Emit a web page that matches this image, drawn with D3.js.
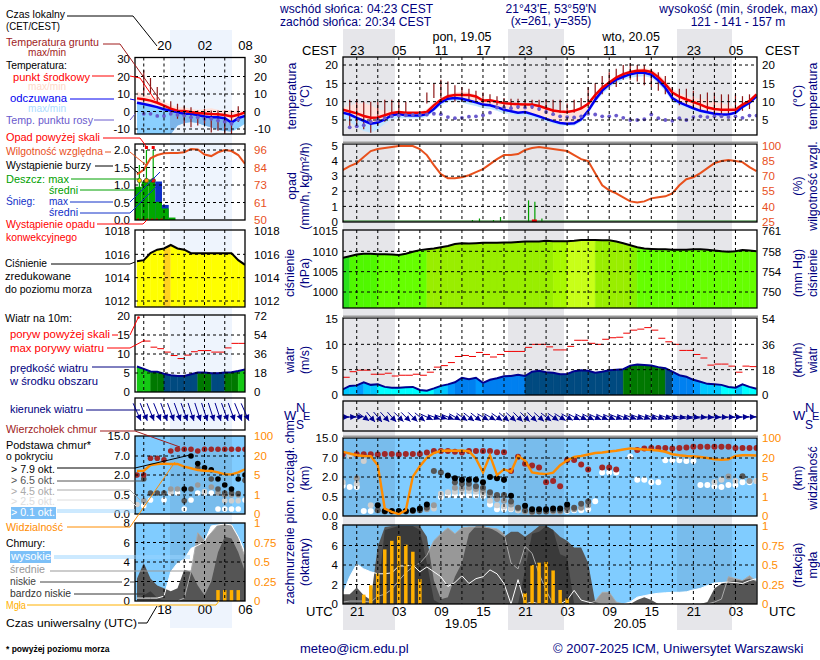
<!DOCTYPE html>
<html><head><meta charset="utf-8">
<script src="https://cdn.jsdelivr.net/npm/d3@7"></script>
<style>html,body{margin:0;padding:0;background:#fff}svg{display:block}text{font-family:"Liberation Sans",Arial,sans-serif}</style>
</head><body><svg id="c" width="820" height="660"></svg>
<script>
const n=null;
// ---------- main meteogram data (hourly from 19 UTC 18.05, index = hour) ----------
const tempMid=[7.8,7.3,6.8,6.1,5.6,5.7,6.3,6.9,7.2,7,7,7,7.2,9,10.5,11.5,11.8,11.8,11.8,11.4,10.3,10.4,10,9.6,9.4,9.3,9.2,9.2,8.8,8.2,7.6,7.3,7.2,7.5,8.2,9.4,11.8,13.8,15.2,16.6,17.5,18.1,18.4,18.5,18.1,16.7,14.8,12.5,11.4,10.6,9.9,9.2,8.4,8,7.8,7.8,7.8,9.2,10.2,12];
const tempFeel=[7,6.5,5.6,4.8,4,4.3,5.2,6.3,6.6,6.3,6.2,6.2,6.6,8,9.8,10.8,11,10.8,10.3,9.8,9.2,9,8.5,7.8,7.4,7,7.2,6.6,6,5.3,4.7,4.2,4,4.1,5.2,7.5,10.5,13,14.7,16,16.8,17.5,17.9,17.9,17.4,15.8,13.8,11,9.8,9,8.2,7.5,7.1,6.7,6.5,6.5,7,8.6,9.7,11.5];
const tempMax=[8.5,8.8,9.5,9.5,9,8,7.5,7.5,7.5,7.3,7.2,7.2,8,9.8,11,12,12.5,12.8,12.5,11.8,10.8,10.8,10.3,10,9.7,9.6,9.5,9.5,9.2,8.6,8,7.6,7.5,7.8,8.5,9.8,12.2,14.2,15.7,17,18,18.6,19,19.2,18.8,17.6,15.8,13.5,12.3,11.6,11,10.7,10.5,10,9.6,9,8.5,9.6,10.5,12.2];
const feelMin=[5.5,4.5,3,2,1.5,2.5,4,5.2,5.5,5.5,5.4,5.5,5.8,7.3,9,10,10.3,9.8,9.2,8.8,8.2,8,7.5,6.8,6.6,6.2,6.2,5.8,5.3,4.6,4,3.5,3.4,3.4,4.5,6.7,9.7,12,13.8,15,16,16.5,16.8,16.9,16.5,14.8,12.8,10,9,8.3,7.6,7,6.6,6.3,6,6,6.5,8,9.2,11];
const dewPoint=[n,3,3.3,3.6,4.5,5,5.5,6,6.2,6.3,6.4,6.5,6.5,6.7,6.6,5.8,5.5,5.6,5.9,6,6.3,7,8.4,8.4,8.2,8.6,8.4,8.6,8,7.2,6.6,6,5.8,5.7,6,6.7,6.5,6,6,6.2,5.6,5,5,5.2,6.5,5.5,5,4.8,5.5,5,5.8,6,5.8,6,6,5.8,6,5.6,6.2,6.2];
const groundMin=[n,3,3,2.5,1.5,3.5,4.5,6,6,7,n,n,9.5,11,11,11,10,10,10,10,9.5,9.5,9,8.7,8.2,8,8,8,7.5,7,7,7,7,7,8,9,10,12,14,14,16,16,15.5,14.5,14,13,12,10.5,9,9,8.5,7.5,7,7,6.5,6.5,7,7.5,8,n];
const groundMax=[n,10.5,10.7,10,10,10,10.5,10.5,10.5,10,n,n,12.5,15,16,15.5,14.5,14,13.5,13,12.5,12,11.5,11,10.8,10.8,10.5,10.5,10.5,10.5,10.5,10.5,9.5,10.5,11,14,15,17,18,19,20,20.5,20,20,19,18,17,14,13.5,13.5,13,12,12.5,12.5,12,12,12,11.5,12,n];
const humidity=[76,80,83,89,95,97,98,99,100,100,100,97,91,81,72,68,68,69,71,74,77,82,87,91,91,92,96,98,99,98,97,96,95,91,87,85,73,61,56,53,49,45,44,45,48,49,50,53,61,67,69,73,78,83,85,86,85,84,79,75];
const rainHours=[18.5,19.5,21.5,22.5,26.5,27.4,28.4];
const rainValues=[.1,.2,.1,.3,1.4,1.3,.2];
const pressure=[1008.4,1008.8,1009.2,1009.4,1009.4,1009.3,1009.3,1009.2,1009.1,1009.4,1009.9,1010.3,1010.5,1010.7,1011,1011.3,1011.8,1012,1011.9,1012,1012.1,1012.1,1012.1,1012.2,1012.2,1012.3,1012.4,1012.4,1012.4,1012.6,1012.5,1012.5,1012.5,1012.6,1012.8,1012.8,1012.8,1012.7,1012.7,1012.4,1012,1011.5,1011,1010.7,1010.6,1010.5,1010.5,1010.4,1010.4,1010.4,1010.5,1010.5,1010.4,1010.2,1010,1009.9,1010,1010.3,1010.2,1010];
const pressureBand=[0,1,1,1,1,2,2,2,2,2,2,2,3,3,3,3,3,3,3,3,3,3,3,3,3,3,3,3,3,3,4,4,5,5,5,5,3,3,3,3,3,6,2,2,2,2,2,2,2,2,2,2,2,2,2,2,2,2,2];
const wind=[1.1,1.8,1.9,2.5,2,2.1,1.6,1.45,1.45,1.55,1.6,1,.85,1.3,1.8,2.1,2.5,3.4,3.1,3.4,2.4,3,3.3,3.7,3.75,4,3.75,4.6,4.8,4.5,4.4,4.1,4.15,4.7,4.9,4.8,4.4,4.6,4.9,5,5.1,5.8,6,5.9,5.8,5.5,5.3,4.6,3.9,3.6,3,2.6,2.2,2.1,2,1.6,1.45,2.1,1.6,1.25];
const gusts=[3.5,4.6,4.9,4.9,4.1,4.1,4.3,3.75,3.9,3.9,4.1,3.9,4.5,5.5,5.8,6.4,7.6,7.8,7.6,8.4,8,7.5,8,8.6,8.6,8.6,9.4,10,10,9.5,8.9,8.9,9.6,10.8,10.8,10.2,10,11,11.3,11.4,12.2,12.8,13,13.3,12.8,11.2,10.5,10,8.8,8.8,8,7.3,5.9,6.1,6.1,5.7,4.5,5.7,5.6];
const windDir=[0,-3,-3,35,50,50,48,48,45,45,45,40,25,20,18,22,30,35,38,38,30,30,35,40,42,45,45,45,42,38,35,32,30,28,28,28,25,25,24,22,22,20,20,20,20,20,18,15,12,10,8,7,6,5,4,3,0,-3,-2,0];
const cloudTop=[8.5,n,8.5,8.5,8.5,8.4,8.6,8.6,8.4,8.6,8.6,8.6,9.2,9.8,9.8,9.8,9.5,9.2,9.8,9.8,9.8,9.8,9.3,9.3,3.6,7.5,5.5,5,4.5,1.6,1.7,1.3,6.5,6.5,5.3,4,n,4.5,4.5,4,n,n,10.2,10.8,11,11,11,10.8,11,11.2,11.5,11.5,11.5,11.5,11.5,11.5,11,11,11,11];
const base79=[n,n,n,n,n,.28,.13,.13,.13,.13,.15,.2,.3,n,n,2.4,1.9,1.8,1.8,1.8,1.6,2,1.9,1.8,.6,n,.27,.18,.18,.18,.2,.2,.3,n,n,n,n,n,n,n,n,n,n,n,n,n,n,n,n,n,n,n,n,n,n,n,n,n,n,n];
const base65=[n,n,n,n,n,.15,.12,.12,.12,.12,.13,.15,.22,3.6,3.2,n,1.6,1.5,1.5,1.3,1.2,.85,.65,.65,.38,.22,.15,.12,.12,.12,.15,.15,.22,.22,.32,.38,n,n,n,n,n,n,n,n,n,n,n,n,n,n,n,n,n,n,n,n,n,2.2,n,n];
const base45=[n,n,1.9,n,n,n,n,n,n,n,n,n,.18,.28,n,n,1.2,1.15,1.2,1.1,.95,.65,.45,.4,.3,.2,.12,.1,n,n,.12,.12,.15,.18,.22,.28,n,n,n,n,n,n,n,n,n,n,n,n,n,n,n,n,n,n,n,2.1,n,n,1.7,n];
const base25=[1.6,7.8,1.5,6.2,.28,n,n,n,n,n,n,n,n,.2,.75,.85,.9,.95,.95,.9,.75,.4,.28,.25,.2,.15,n,n,n,n,n,n,n,n,n,n,n,n,n,n,n,n,n,n,n,n,n,n,n,n,n,n,n,1.6,1.8,n,1.7,n,n,1.7];
const base01=[1.35,1.25,1.25,.13,.13,n,n,n,n,n,n,n,.2,n,.5,.65,.62,.62,.62,.62,.58,.3,.18,.18,.18,.15,.13,.13,.13,.13,.13,.13,.13,.15,.15,.18,.39,3.2,3.2,3.2,n,7.5,1.8,1.8,1.6,1.6,6.4,6.4,6.4,6.2,6.2,1.4,1.4,1.3,1.25,1.4,1.4,1.6,1.6,1.7];
const visibility=[44.8,38,31,28,27,14.3,.39,.22,.1,.3,5.3,13.5,21,40,49,50,49,50,47,19.5,8.6,31,6.5,11,9.1,28,18,8.6,7.8,7.3,8.4,14.3,18,24,28,33.8,40,42,46,49,54,58.6,56,54,52,50,45,35,31,28,27,24,20,19,18.5,19,28,31,31,30];
const coverHigh=[1,2.8,4.1,3.6,3.3,3.1,3.1,3.2,3.9,3.9,4,3.3,3.8,3.3,2.8,1.8,2.2,2.9,2.1,2.6,2.8,3.5,3.1,2.1,0,2.5,0,.2,0,0,0,0,.4,1.4,.4,.2,0,0,0,0,0,.2,.7,.85,1,1.1,1.15,1.2,1.2,1.25,1.45,1.6,1.9,2.15,2.2,2.25,2.2,2.1,2.4,2.6];
const coverMid=[.2,.3,.3,.3,.2,.8,1,1.5,2.4,3.2,3.8,4.2,5,6.5,7.2,7.8,7.2,7.8,7.9,7.9,7.9,7.8,7.7,7.2,4.2,3.6,5.9,5.2,3.1,1.4,0,0,0,0,0,0,.3,1.2,1.2,.2,0,0,0,0,0,0,0,0,0,0,0,0,0,.2,.5,2.8,2.6,2.4,2.9,2.3];
const coverLow=[1,1,1.7,.9,.4,5.9,7.9,8,8,8,8,8,6.9,2.4,.5,.7,2.8,4.2,7.2,8,8,7.8,7.4,6.9,7.4,7.4,6.9,7.4,8,8,7.6,6.9,6.5,5.8,5.8,4.2,.2,0,0,0,0,0,.4,.7,.4,0,0,0,0,0,0,0,.2,1.6,2.1,2.3,2.4,2.4,2.6,2.3];
const coverVeryLow=[0,0,0,0,0,1,7.6,7.8,8,8,8,7.6,4.2,.4,0,0,0,0,0,0,0,0,0,0,0,0,3.5,7.2,7.4,8,7.6,5.1,4.8,0,0,0,0,0,0,0,0,0,0,0,0,0,0,0,0,0,0,0,0,0,0,0,0,0,0,0];
const fogHours=[3,4,5,6,7,8,9,10,11,26,27,28,29,30,31,32];
const fogValues=[.12,.24,.39,.7,.81,.87,.76,.67,.32,.14,.5,.53,.54,.43,.18,.07];
// ---------- small "history" panels (UTC hours 14..30, index 0 = 14) ----------
const sHours=[14,15,16,17,18,19,20,21,22,23,24,25,26,27,28,29,30];
const sTempMid=[7.5,7,6.2,5,3.4,1.6,.5,.3,-.3,-.8,-1.1,-1.4,-1.6,-2,-2.8,-1.9,-.5];
const sTempFeel=[5,4.3,3.4,2.5,1.3,.6,-.4,-1.3,-1.3,-2,-2.9,-3.3,-3.3,-3.8,-6.3,-3.8,-2.5];
const sTempMax=[11.5,9.5,9,7.5,5.4,3.8,2.5,2.5,1.5,1,1.5,1.9,1,.5,.5,.5,0];
const sFeelMin=[-13,-13,-13,-13,-13,-13,-8,-6.5,-6,-6.5,-8,-9,-10.5,-11,-11.5,-9.5,-7];
const sDew=[n,-1.3,-1.3,-2.5,-2.5,-1.3,-1.9,-2.3,-3.3,-3.3,-4.2,-4.2,-5.2,-5.8,-7,-4.6,n];
const sGroundMin=[n,9.2,10.2,5.4,n,-1.3,-4.2,-8,-9,-8,-8,-12,-11,-13,-13,-6,n];
const sGroundMax=[n,23.6,19.2,14,n,5.8,4.4,3.5,2.5,.6,1.5,.6,.6,.6,.6,3,n];
const sHumidity=[80,83,90.5,92.7,93.8,94,94,94.5,96.7,96.4,93,92,94.5,96,95.3,92.7,86.8];
const sRainStart=[13.7,14.7,15.7,16.7,17.7,18.7,19.7];
const sRainMean=[.95,1.1,1.16,.52,.33,.07,0];
const sSnowTop=[n,n,n,1.1,.43,n,n];
const sRainMaxHours=[14.35,15.4,16.4];
const sRainMaxValues=[1.57,2,2];
const sOverScaleHours=[15.4,16.4];
const sStormHours=[14.35,15.4,16.4];
const sStormLevel=[1.13,1.13,1.13];
const sConvectiveHours=[14,14.7,15.4,16.1,16.8,17.5];
const sPressure=[1015.4,1015.5,1016.1,1016.4,1016.5,1016.8,1016.5,1016.4,1016.1,1016.1,1016.1,1016.1,1016.1,1016.1,1016.1,1015.5,1015.1];
const sWind=[6.7,6.1,5.4,5.3,4.8,4.4,4.2,4.2,4.65,5.1,5.1,4.95,4.95,5.1,5.2,5.5,5.9];
const sGusts=[n,13.4,11.8,11.4,10.5,9.6,8.8,9.7,10.6,10.9,10.9,10.5,10.5,11.6,12.8,12.8];
const sWindDir=[66,68,68,68,70,70,70,70,72,72,72,72,72,70,70,68,66];
const sCloudTop=[2,2,6.4,6.4,6,9,9.7,9.7,9.7,9,9.7,9.7,9.7,9.7,9.7,9.7,9.7];
const sBase79=[n,n,n,n,n,n,n,.95,7,5,3.9,3.4,1.7,1.25,.95,1.7,2];
const sBase65=[n,1.7,.65,.65,.65,n,n,.35,.95,3.9,n,1.7,.95,.65,.65,.6,1.6];
const sBase45=[n,.35,n,n,n,.95,.95,n,n,1.25,n,1.1,.65,.5,.5,.5,n];
const sBase25=[.25,n,n,n,n,.75,n,n,n,n,.75,n,n,.35,.35,.35,n];
const sBase01=[n,.22,.37,n,.37,.65,.65,.13,.37,.65,.65,.65,.13,.13,.13,.13,.37];
const sVisibility=[8.2,8.4,12.9,13.7,14,13.7,13.7,11.6,10.3,8.9,8.4,8.2,7.1,5.5,5.5,7.1,9.5];
const sHigh=[.3,.3,.3,.3,.5,3,3.9,4.3,5.4,5.7,6.1,7.7,7.8,7.9,7.8,6.6,5];
const sMid=[0,0,0,0,0,0,0,.3,3,7,6.2,7,7.8,7.9,7.8,6.5,4.5];
const sLow=[2.3,3.9,2.3,1.6,1.3,1,1.3,3.2,3,1.6,.6,2,5,6.6,6.4,5,3];
const sVeryLow=[.2,.6,1,.3,0,0,0,0,0,0,0,0,0,0,0,0,0];
const sFogHours=[26,27,28,29];
const sFogValues=[.14,.14,.14,.14];
// ---------- tick labels ----------
const tickCEST=["23","05","11","17","23","05","11","17","23","05"];
const tickUTC=["21","03","09","15","21","03","09","15","21","03"];
const tickHours=[2,8,14,20,26,32,38,44,50,56];
const gridHours=[2,5,8,11,14,17,20,23,26,29,32,35,38,41,44,47,50,53,56];
const sGridHours=[15,18,21,24,27];
const sTickHours=[18,24,30];
const sTickCEST=["20","02","08"];
const sTickUTC=["18","00","06"];

const svg=d3.select("#c");
const NAVY="#000080",HUM="#e8501c",VIS="#ff8c00",BROWN="#a01c1c",SKY="#80ccff",SKYN="#78bcec";
const fontTick=11.5;
const mx=d3.scaleLinear([0,59],[342.7,756.5]);
const sx=d3.scaleLinear([18,30],[164,245]);
const M={x0:343,x1:757}, S={x0:135,x1:245};
function txt(x,y,s,o={}){return (o.g||svg).append("text").attr("x",x).attr("y",y).attr("fill",o.fill||"#000").attr("font-size",o.size||12).attr("text-anchor",o.anchor||"start").attr("letter-spacing",o.ls||0).text(s);}
function vtxt(x,y,s,fill=NAVY,size=12.4){svg.append("text").attr("transform",`translate(${x},${y}) rotate(-90)`).attr("fill",fill).attr("font-size",size).attr("text-anchor","middle").text(s);}

// day / night stripes behind everything
svg.append("rect").attr("x",170).attr("y",30).attr("width",62).attr("height",598).attr("fill","#eef4fd");
[[343,395],[508,564],[677,732]].forEach(b=>svg.append("rect").attr("x",b[0]).attr("y",29).attr("width",b[1]-b[0]).attr("height",601).attr("fill","#e6e6ea"));

let cid=0;
function panel(P,top,bottom,bg,nightFill,bands){
  const id="p"+(cid++);
  svg.append("clipPath").attr("id",id).append("rect").attr("x",P.x0).attr("y",top).attr("width",P.x1-P.x0).attr("height",bottom-top);
  const g=svg.append("g").attr("clip-path",`url(#${id})`);
  g.append("rect").attr("x",P.x0).attr("y",top).attr("width",P.x1-P.x0).attr("height",bottom-top).attr("fill",bg);
  bands.forEach(b=>g.append("rect").attr("x",b[0]).attr("y",top).attr("width",b[1]-b[0]).attr("height",bottom-top).attr("fill",nightFill));
  return g;
}
const mBands=[[343,395],[508,564],[677,732]], sBands=[[170,232]];
function finish(P,x,top,bottom,grid,yL,hTicks,axL,axR,shadow){
  const g=svg.append("g");
  grid.forEach(h=>g.append("line").attr("x1",x(h)).attr("x2",x(h)).attr("y1",top).attr("y2",bottom).attr("stroke","#000").attr("stroke-dasharray","3,3"));
  if(yL) hTicks.forEach(v=>g.append("line").attr("x1",P.x0).attr("x2",P.x1).attr("y1",yL(v)).attr("y2",yL(v)).attr("stroke","#000").attr("stroke-dasharray","3,3"));
  if(shadow) svg.append("line").attr("x1",P.x0).attr("x2",P.x1+1).attr("y1",top-1.5).attr("y2",top-1.5).attr("stroke","#999").attr("stroke-width",2);
  g.append("rect").attr("x",P.x0).attr("y",top).attr("width",P.x1-P.x0).attr("height",bottom-top).attr("fill","none").attr("stroke","#000").attr("stroke-width",1.3);
  const doAxis=(a,fn,xp)=>{ if(!a) return;
    const ag=svg.append("g").attr("transform",`translate(${xp},0)`).call(fn(a.scale).tickValues(a.ticks).tickSize(0).tickPadding(0).tickFormat(a.fmt||(d=>d)));
    ag.select(".domain").remove();
    ag.selectAll("text").attr("font-size",fontTick).attr("font-family",'"Liberation Sans",Arial,sans-serif').attr("fill",a.fill||"#000");
  };
  doAxis(axL,d3.axisLeft,P===M?338:130);
  doAxis(axR,d3.axisRight,P===M?762:254);
}
const line=(x,y)=>d3.line().defined(d=>d[1]!==null).x(d=>x(d[0])).y(d=>y(d[1]));
const ser=(hours,vals)=>vals.map((v,i)=>[hours[i],v]);
const area=(x,y)=>d3.area().x(d=>x(d[0])).y0(d=>y(d[2])).y1(d=>y(d[1]));
const idx=d3.range(60);

function drawTemp(g,x,y,H,mid,feel,max,fmin,dew,gmin,gmax,lw,bandFill,nightBand){
  g.append("path").datum(H.map((h,i)=>[h,max[i],feel[i]])).attr("d",area(x,y)).attr("fill","#ffe2dc");
  const minData=H.map((h,i)=>[h,feel[i],fmin[i]]);
  g.append("path").datum(minData).attr("d",area(x,y)).attr("fill",bandFill);
  if(nightBand){
    const id="nb"+(cid++);
    svg.append("clipPath").attr("id",id).append("rect").attr("x",nightBand[0]).attr("y",0).attr("width",nightBand[1]-nightBand[0]).attr("height",660);
    g.append("g").attr("clip-path",`url(#${id})`).append("path").datum(minData).attr("d",area(x,y)).attr("fill","#7cb4e8");
  }
  H.forEach((h,i)=>{if(gmax[i]!==null) g.append("line").attr("x1",x(h)).attr("x2",x(h)).attr("y1",y(gmax[i])).attr("y2",y(gmin[i])).attr("stroke","#8c1818").attr("stroke-width",1.2);});
  g.append("path").datum(ser(H,feel)).attr("d",line(x,y)).attr("fill","none").attr("stroke","#0000f0").attr("stroke-width",lw);
  g.append("path").datum(ser(H,mid)).attr("d",line(x,y)).attr("fill","none").attr("stroke","#f00000").attr("stroke-width",lw);
  H.forEach((h,i)=>{if(dew[i]!==null) g.append("circle").attr("cx",x(h)).attr("cy",y(dew[i])).attr("r",1.9).attr("fill","#6a5acd");});
}
const gridLineWind=(g,x,y,H,vals,col,lw=1)=>H.forEach((h,i)=>{if(vals[i]!==undefined&&vals[i]!==null) g.append("line").attr("x1",x(h)).attr("x2",x(h+1)).attr("y1",y(vals[i])).attr("y2",y(vals[i])).attr("stroke",col).attr("stroke-width",lw);});
function drawSegments(g,x,y,H,vals,baseY,col){
  for(let i=0;i<H.length-1;i++){
    g.append("path").datum([[H[i],vals[i]],[H[i+1],vals[i+1]]]).attr("d",d3.area().x(d=>x(d[0])).y0(baseY).y1(d=>y(d[1]))).attr("fill",col(i)).attr("stroke",col(i)).attr("stroke-width",.4);
  }
}
function drawArrows(g,x,H,dirs,cy,L,col,sw){
  H.forEach((h,i)=>{
    const a=dirs[i]*Math.PI/180, dx=Math.cos(a)*L/2, dy=Math.sin(a)*L/2, x1=x(h)+dx,y1=cy+dy;
    g.append("line").attr("x1",x(h)-dx).attr("y1",cy-dy).attr("x2",x1).attr("y2",y1).attr("stroke",col).attr("stroke-width",sw);
    const ux=Math.cos(a),uy=Math.sin(a),bx=x1-ux*6,by=y1-uy*6;
    g.append("path").attr("d",`M${x1},${y1}L${bx-uy*3},${by+ux*3}L${bx+uy*3},${by-ux*3}Z`).attr("fill",col);
  });
}
const baseDomain=[0,.5,2,7,15], visDomain=[0,1,5,20,100];
function drawBase(g,x,y,yv,H,top,c79,c65,c45,c25,c01,vis,r){
  [[c01,"#ffffff"],[c25,"#cfcfcf"],[c45,"#9a9a9a"],[c65,"#555555"],[c79,"#000000"],[top,"#a02828"]].forEach(([a,col])=>{
    H.forEach((h,i)=>{if(a[i]!==null&&a[i]!==undefined) g.append("circle").attr("cx",x(h)).attr("cy",y(a[i])).attr("r",r).attr("fill",col);});
  });
  g.append("path").datum(ser(H,vis)).attr("d",line(x,yv)).attr("fill","none").attr("stroke",VIS).attr("stroke-width",2.4);
}
function drawCover(g,x,y,yf,H,hi,mi,lo,vl,fogH,fogV,bw){
  const ar=d3.area().x(d=>x(d[0])).y0(y(0)).y1(d=>y(d[1]));
  g.append("path").datum(ser(H,hi)).attr("d",ar).attr("fill","#fff");
  g.append("path").datum(ser(H,mi)).attr("d",ar).attr("fill","#989898");
  g.append("path").datum(ser(H,lo)).attr("d",ar).attr("fill","#555");
  g.append("path").datum(ser(H,vl)).attr("d",ar).attr("fill","#3a3a3a");
  g.append("path").datum(ser(H,mi)).attr("d",line(x,y)).attr("fill","none").attr("stroke","#aaa").attr("stroke-width",1);
  g.append("path").datum(ser(H,hi)).attr("d",line(x,y)).attr("fill","none").attr("stroke","#fff").attr("stroke-width",1);
  fogH.forEach((h,i)=>g.append("rect").attr("x",x(h)-bw/2).attr("y",yf(fogV[i])).attr("width",bw).attr("height",yf(0)-yf(fogV[i])).attr("fill","#ffb000"));
}

// ===== MAIN PANELS =====
{ // temperature
  const y=d3.scaleLinear([5,20],[120,65]);
  const g=panel(M,57,135,"#fff","#e6e6ea",mBands);
  drawTemp(g,mx,y,idx,tempMid,tempFeel,tempMax,feelMin,dewPoint,groundMin,groundMax,2.5,"#c2e6ff",null);
  const ax={scale:y,ticks:[5,10,15,20]};
  finish(M,mx,57,135,gridHours,y,[5,10,15,20],ax,ax);
}
{ // precipitation + humidity
  const y=d3.scaleLinear([0,5],[221.5,146]), yh=d3.scaleLinear([25,100],[221.5,146]);
  const g=panel(M,144,222,"#fff","#e6e6ea",mBands);
  rainHours.forEach((h,i)=>g.append("line").attr("x1",mx(h)).attr("x2",mx(h)).attr("y1",y(0)).attr("y2",y(rainValues[i])).attr("stroke","#00a000").attr("stroke-width",1.2));
  g.append("line").attr("x1",M.x0).attr("x2",M.x1).attr("y1",221).attr("y2",221).attr("stroke","#0a6a0a");
  g.append("rect").attr("x",mx(27.4)-3).attr("y",219.5).attr("width",5).attr("height",2.5).attr("fill","#e00000");
  g.append("path").datum(ser(idx,humidity)).attr("d",line(mx,yh)).attr("fill","none").attr("stroke",HUM).attr("stroke-width",2);
  finish(M,mx,144,222,gridHours,y,[1,2,3,4],{scale:y,ticks:[0,1,2,3,4,5]},{scale:yh,ticks:[25,40,55,70,85,100],fill:HUM},true);
}
{ // pressure
  const y=d3.scaleLinear([1000,1015],[292,231]);
  const mm=d3.scaleLinear([750,754,758,761],[292,272,251.5,231]);
  const colors=["#2be01c","#50f800","#66ff00","#99ee00","#a8f800","#c8ff18","#88f000"];
  const g=panel(M,230,308,"#fff","#e6e6ea",mBands);
  drawSegments(g,mx,y,idx,pressure,308,i=>colors[pressureBand[i]]);
  g.append("path").datum(ser(idx,pressure)).attr("d",line(mx,y)).attr("fill","none").attr("stroke","#000").attr("stroke-width",2);
  finish(M,mx,230,308,gridHours,y,[1000,1005,1010],{scale:y,ticks:[1000,1005,1010,1015]},{scale:mm,ticks:[750,754,758,761]});
}
const windCol=d3.scaleThreshold([1.8,2.3,3,4.05,5.15,6.5],["#00ffff","#00c8ff","#0099ff","#0080f0","#004a80","#007800","#14c814"]);
const sWindCol=d3.scaleThreshold([5.05,5.45],["#004a80","#007800","#14c814"]);
{ // wind
  const y=d3.scaleLinear([0,15],[395,319]), yk=d3.scaleLinear([0,54],[395,319]);
  const g=panel(M,318,395,"#fff","#e6e6ea",mBands);
  drawSegments(g,mx,y,idx,wind,395,i=>windCol(wind[i+1]));
  g.append("path").datum(ser(idx,wind)).attr("d",line(mx,y)).attr("fill","none").attr("stroke","#000090").attr("stroke-width",2);
  gridLineWind(g,mx,y,idx,gusts,"#f00000");
  finish(M,mx,318,395,gridHours,y,[5,10],{scale:y,ticks:[0,5,10,15]},{scale:yk,ticks:[0,18,36,54]},true);
}
{ // wind direction
  const g=panel(M,401,431,"#fff","#e6e6ea",mBands);
  drawArrows(g,mx,idx,windDir,417,13,"#000090",1);
  finish(M,mx,401,431,gridHours,null,[],null,null);
}
{ // cloud base
  const y=d3.scaleLinear(baseDomain,[516,497,477,458,438]), yv=d3.scaleLinear(visDomain,[516,497,477,458,438]);
  const g=panel(M,438,516,SKY,SKYN,mBands);
  drawBase(g,mx,y,yv,idx,cloudTop,base79,base65,base45,base25,base01,visibility,3);
  finish(M,mx,438,516,gridHours,y,[.5,2,7],{scale:y,ticks:baseDomain,fmt:d=>d3.format(".1f")(d)},{scale:yv,ticks:visDomain,fill:VIS},true);
}
{ // cloud cover + fog
  const y=d3.scaleLinear([0,8],[604,526]), yf=d3.scaleLinear([0,1],[604,526]);
  const g=panel(M,525,604,SKY,SKYN,mBands);
  drawCover(g,mx,y,yf,idx,coverHigh,coverMid,coverLow,coverVeryLow,fogHours,fogValues,3.5);
  finish(M,mx,525,604,gridHours,y,[2,4,6],{scale:y,ticks:[0,2,4,6,8]},{scale:yf,ticks:[0,.25,.5,.75,1],fill:VIS});
}
// ===== SMALL PANELS =====
{
  const y=d3.scaleLinear([-10,30],[129,59]);
  const g=panel(S,57.5,134,"#fff","#eef4fd",sBands);
  drawTemp(g,sx,y,sHours,sTempMid,sTempFeel,sTempMax,sFeelMin,sDew,sGroundMin,sGroundMax,2.5,"#8ad0ff",sBands[0]);
  const ax={scale:y,ticks:[-10,0,10,20,30]};
  finish(S,sx,57.5,134,sGridHours,y,[-10,0,10,20],ax,ax);
}
{
  const y=d3.scaleLinear([0,2],[220,150]), yh=d3.scaleLinear([50,96],[220,150]);
  const g=panel(S,144,220,"#fff","#eef4fd",sBands);
  sRainStart.forEach((h,i)=>{
    if(sSnowTop[i]!==null) g.append("rect").attr("x",sx(h)).attr("y",y(sSnowTop[i])).attr("width",sx(h+1)-sx(h)).attr("height",y(0)-y(sSnowTop[i])).attr("fill","#1030c8");
    g.append("rect").attr("x",sx(h)).attr("y",y(sRainMean[i])).attr("width",sx(h+1)-sx(h)).attr("height",y(0)-y(sRainMean[i])).attr("fill","#00a800");
  });
  sRainMaxHours.forEach((h,i)=>g.append("line").attr("x1",sx(h)).attr("x2",sx(h)).attr("y1",y(0)).attr("y2",y(sRainMaxValues[i])).attr("stroke","#00a800").attr("stroke-width",1.2));
  sOverScaleHours.forEach(h=>svg.append("rect").attr("x",sx(h)-1.5).attr("y",146).attr("width",3).attr("height",3).attr("fill","#f00000"));
  ["#ffe000","#ff9800","#e81010"].forEach((c,i)=>g.append("circle").attr("cx",sx(sStormHours[i])).attr("cy",y(sStormLevel[i])).attr("r",2.2).attr("fill",c).attr("stroke","#333").attr("stroke-width",.6));
  sConvectiveHours.forEach(h=>g.append("rect").attr("x",sx(h)).attr("y",218.5).attr("width",2).attr("height",1.5).attr("fill","#f00000"));
  g.append("path").datum(ser(sHours,sHumidity)).attr("d",line(sx,yh)).attr("fill","none").attr("stroke",HUM).attr("stroke-width",2);
  finish(S,sx,144,220,sGridHours,y,[.5,1,1.5,2],{scale:y,ticks:[0,.5,1,1.5,2],fmt:d3.format(".1f")},{scale:yh,ticks:[50,61,73,84,96],fill:HUM});
}
{
  const y=d3.scaleLinear([1012,1018],[301,231]);
  const col=d3.scaleThreshold([1016.7],["#ffff00","#ffd21e"]);
  const g=panel(S,230,307,"#fff","#eef4fd",sBands);
  drawSegments(g,sx,y,sHours,sPressure,307,i=>col(sPressure[i+1]));
  g.append("path").datum(ser(sHours,sPressure)).attr("d",line(sx,y)).attr("fill","none").attr("stroke","#000").attr("stroke-width",2);
  const ax={scale:y,ticks:[1012,1014,1016,1018]};
  finish(S,sx,230,307,sGridHours,y,[1012,1014,1016],ax,ax);
}
{
  const y=d3.scaleLinear([0,20],[392,316]), yk=d3.scaleLinear([0,72],[392,316]);
  const g=panel(S,315,392,"#fff","#eef4fd",sBands);
  drawSegments(g,sx,y,sHours,sWind,392,i=>sWindCol(sWind[i]));
  g.append("path").datum(ser(sHours,sWind)).attr("d",line(sx,y)).attr("fill","none").attr("stroke","#000090").attr("stroke-width",2);
  gridLineWind(g,sx,y,sHours,sGusts,"#f00000");
  g.append("circle").attr("cx",138.5).attr("cy",317.5).attr("r",1.3).attr("fill","#f00000");
  finish(S,sx,315,392,sGridHours,y,[5,10,15],{scale:y,ticks:[0,5,10,15,20]},{scale:yk,ticks:[0,18,36,54,72]});
}
{
  const g=panel(S,398,430,"#fff","#eef4fd",sBands);
  finish(S,sx,398,430,sGridHours,null,[],null,null);
  drawArrows(svg,sx,sHours,sWindDir,412,19,"#000090",1);
}
{
  const y=d3.scaleLinear(baseDomain,[514,495,475,456,436]), yv=d3.scaleLinear(visDomain,[514,495,475,456,436]);
  const g=panel(S,436,514,SKY,SKYN,sBands);
  drawBase(g,sx,y,yv,sHours,sCloudTop,sBase79,sBase65,sBase45,sBase25,sBase01,sVisibility,2.8);
  finish(S,sx,436,514,sGridHours,y,[.5,2,7],{scale:y,ticks:baseDomain,fmt:d=>d3.format(".1f")(d)},{scale:yv,ticks:visDomain,fill:VIS});
}
{
  const y=d3.scaleLinear([0,8],[601,523]), yf=d3.scaleLinear([0,1],[601,523]);
  const g=panel(S,523,601,SKY,SKYN,sBands);
  drawCover(g,sx,y,yf,sHours,sHigh,sMid,sLow,sVeryLow,sFogHours,sFogValues,3.5);
  finish(S,sx,523,601,sGridHours,y,[2,4,6],{scale:y,ticks:[0,2,4,6,8]},{scale:yf,ticks:[0,.25,.5,.75,1],fill:VIS});
}
// ===== time axes =====
function timeAxis(x,ticks,labels,yp,gen){
  const a=svg.append("g").attr("transform",`translate(0,${yp})`).call(gen(x).tickValues(ticks).tickSize(0).tickPadding(0).tickFormat((d,i)=>labels[i]));
  a.select(".domain").remove();
  a.selectAll("text").attr("font-size",13).attr("font-family",'"Liberation Sans",Arial,sans-serif').attr("fill","#000");
}
timeAxis(mx,tickHours,tickCEST,55,d3.axisTop);
timeAxis(mx,tickHours,tickUTC,607,d3.axisBottom);
timeAxis(sx,sTickHours,sTickCEST,50,d3.axisTop);
timeAxis(sx,sTickHours,sTickUTC,605,d3.axisBottom);
// ===== header / footer =====
txt(280,13,"wschód słońca: 04:23 CEST",{fill:NAVY,ls:.1});
txt(280,26,"zachód słońca: 20:34 CEST",{fill:NAVY,ls:.1});
txt(551,13,"21°43'E, 53°59'N",{fill:NAVY,anchor:"middle"});
txt(551,25,"(x=261, y=355)",{fill:NAVY,anchor:"middle"});
txt(818,13,"wysokość (min, środek, max)",{fill:NAVY,anchor:"end",ls:.15});
txt(738,26,"121 - 141 - 157 m",{fill:NAVY,anchor:"middle"});
txt(462,41,"pon, 19.05",{anchor:"middle",size:12.5});
txt(631,41,"wto, 20.05",{anchor:"middle",size:12.5});
txt(302,55,"CEST",{size:13});txt(765,55,"CEST",{size:13});
txt(306,616,"UTC",{size:13});txt(769,616,"UTC",{size:13});
txt(461,628,"19.05",{anchor:"middle",size:13});txt(630,628,"20.05",{anchor:"middle",size:13});
txt(300,653,"meteo@icm.edu.pl",{fill:NAVY,size:13});
txt(553,653,"© 2007-2025 ICM, Uniwersytet Warszawski",{fill:NAVY,size:13});
txt(6,652,"* powyżej poziomu morza",{size:8.5,fill:"#000"}).attr("font-weight","bold");
// axis titles
[[292,96,"temperatura"],[305,96,"(°C)"],[292,186,"opad"],[305,186,"(mm/h, kg/m²/h)"],[290,273,"ciśnienie"],[305,273,"(hPa)"],[290,360,"wiatr"],[305,360,"(m/s)"],[290,470,"pion. rozciągł. chm."],[305,478,"(km)"],[290,566,"zachmurzenie"],[305,562,"(oktanty)"],
 [813,96,"temperatura"],[798,96,"(°C)"],[813,186,"wilgotność wzgl."],[798,186,"(%)"],[813,273,"ciśnienie"],[798,273,"(mm Hg)"],[813,360,"wiatr"],[798,360,"(km/h)"],[813,478,"widzialność"],[798,478,"(km)"],[813,565,"mgła"],[798,565,"(frakcja)"]
].forEach(d=>vtxt(d[0]+4,d[1],d[2]));
[[284,420,"W",13],[296,412,"N",13],[303,420,"E",11],[296,429,"S",12],[793,420,"W",13],[805,412,"N",13],[812,420,"E",11],[805,429,"S",12]].forEach(d=>txt(d[0],d[1],d[2],{fill:NAVY,size:d[3]}));
// ===== left-hand legend =====
const legendText=[
 [6,18,"Czas lokalny","#000",65],[6,30,"(CET/CEST)","#000",60],
 [6,46,"Temperatura gruntu",BROWN,99],[28,56,"max/min",BROWN,66],[6,69,"Temperatura:","#000",67],
 [13,81,"punkt środkowy","#f00",90],[28,90,"max/min","#ffd8c8",66],[10,102,"odczuwana","#0000f0",67],[28,112,"max/min","#aaddff",66],
 [6,124,"Temp. punktu rosy","#6a5acd",93],[6,141,"Opad powyżej skali","#f00",100],[6,155,"Wilgotność względna",HUM,103],
 [6,169,"Wystąpienie burzy","#000",91],[6,183,"Deszcz: max","#00a000",69],[49,194,"średni","#00a000",78],[6,205,"Śnieg:","#1030c8",35],[49,205,"max","#1030c8",68],[49,216,"średni","#1030c8",78],
 [6,228,"Wystąpienie opadu","#f00",95],[6,241,"konwekcyjnego","#f00",77],
 [5,267,"Ciśnienie","#000",47],[5,280,"zredukowane","#000",71],[5,293,"do poziomu morza","#000",92],[5,322,"Wiatr na 10m:","#000",72],
 [10,338,"poryw powyżej skali","#f00",110],[10,352,"max porywy wiatru","#f00",104],[10,372,"prędkość wiatru",NAVY,88],[10,385,"w środku obszaru",NAVY,98],
 [10,413,"kierunek wiatru",NAVY,83],[6,433,"Wierzchołek chmur",BROWN,97],[6,449,"Podstawa chmur*","#000",91],[6,460,"o pokryciu","#000",53],
 [11,473,"> 7.9 okt.","#000",55],[11,484,"> 6.5 okt.","#555",55],[11,495,"> 4.5 okt.","#aaa",55],[11,505,"> 2.5 okt.","#ddd",55],[11,516,"> 0.1 okt.","#fff",55],
 [6,531,"Widzialność",VIS,63],[6,547,"Chmury:","#000",45],[11,560,"wysokie","#fff",51],[10,573,"średnie","#999",45],[10,585,"niskie","#444",36],[10,597,"bardzo niskie","#333",71],[6,609,"Mgła","#ffb000",26],[6,627,"Czas uniwersalny (UTC)","#000",137]
];
svg.append("rect").attr("x",10).attr("y",551).attr("width",41).attr("height",12).attr("fill","#7cc0f8");
svg.append("rect").attr("x",11).attr("y",507).attr("width",45).attr("height",12).attr("fill","#7cc0f8");
const leaders=[
 [[67,16],[133,16],[157,46],"#000"],[[103,44],[120,44],[160,100],BROWN],[[92,76],[114,76],null,"#f00"],[[130,76],[140,78],[155,100],"#f00"],
 [[70,99],[114,99],null,"#0000f0"],[[130,99],[135,100],null,"#0000f0"],[[94,120],[114,120],null,"#6a5acd"],[[130,120],[135,114],null,"#6a5acd"],
 [[103,138],[140,138],[146,146],"#f00"],[[105,152],[111,152],null,HUM],[[130,152],[146,165],null,HUM],[[95,166],[113,166],null,"#000"],[[130,166],[138,173],null,"#000"],
 [[71,179],[139,179],null,"#00a000"],[[80,190],[135,190],null,"#00a000"],[[70,202],[113,202],null,"#1030c8"],[[130,202],[160,172],null,"#1030c8"],[[80,213],[130,213],[160,183],"#1030c8"],
 [[97,224],[143,224],[147,220],"#f00"],[[51,264],[130,264],[135,262],"#000"],[[112,335],[118,335],null,"#f00"],[[130,335],[138,318],null,"#f00"],[[107,348],[130,348],[145,340],"#f00"],
 [[92,367],[135,367],null,NAVY],[[86,410],[140,410],null,NAVY],[[100,431],[135,431],[180,447],BROWN],[[57,468],[135,468],[190,455],"#000"],[[57,481],[143,481],null,"#555"],[[57,490],[130,490],[140,500],"#aaa"],[[57,500],[130,500],[136,506],"#ddd"],
 [[57,510],[135,510],null,"#9ad4ff"],[[57,512],[135,512],null,"#9ad4ff"],[[67,527],[130,527],[175,462],VIS],[[54,556],[190,556],null,"#9ad4ff"],[[54,558],[190,558],null,"#9ad4ff"],[[50,571],[193,571],null,"#999"],[[40,582],[122,582],null,"#444"],[[130,582],[135,582],null,"#444"],[[74,594],[145,594],null,"#333"],[[27,605],[216,605],[219,601],"#ffb000"],[[138,623],[147,623],[157,606],"#000"]
];
leaders.forEach(l=>{const pts=l.slice(0,3).filter(Boolean);svg.append("path").attr("d",d3.line()(pts)).attr("fill","none").attr("stroke",l[3]).attr("stroke-width",1);});
legendText.forEach(d=>txt(d[0],d[1],d[2],{fill:d[3],size:11.5}).attr("textLength",d[4]-d[0]).attr("lengthAdjust","spacingAndGlyphs"));
</script></body></html>
